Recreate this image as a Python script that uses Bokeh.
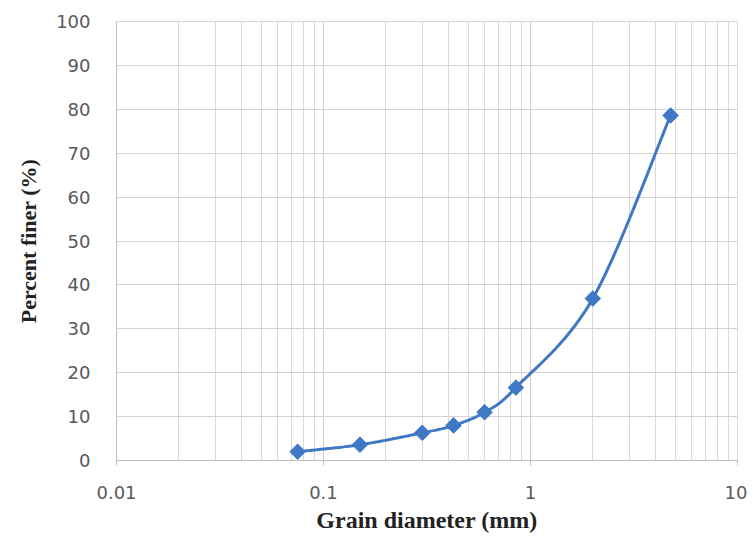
import numpy as np
from bokeh.plotting import figure
from bokeh.models import FixedTicker, Range1d
from bokeh.embed import file_html
from bokeh.resources import INLINE

# Data
grain_mm = [0.075, 0.15, 0.3, 0.425, 0.6, 0.85, 2.0, 4.75]
percent_finer = [2.0, 3.6, 6.3, 8.0, 11.0, 16.6, 36.9, 78.6]

x_major = [0.01, 0.1, 1, 10]
x_minor = [k * 10.0 ** d for d in (-2, -1, 0) for k in range(2, 10)]
y_ticks = list(range(0, 101, 10))

BLUE = "#3F78C4"
GRID = "#d9d9d9"
TICK_TXT = "#595959"

p = figure(width=747, height=535, x_axis_type="log",
           x_range=Range1d(0.01, 10), y_range=Range1d(0, 100),
           output_backend="svg", toolbar_location=None,
           min_border_left=116, min_border_right=10,
           min_border_top=21, min_border_bottom=75)
p.background_fill_color = "white"
p.border_fill_color = "white"
p.outline_line_color = GRID

# Smooth curve (Catmull-Rom in screen-proportional space, like Excel smoothing)
sx, sy = 207.0, 4.39
u = np.log10(np.array(grain_mm)) * sx
v = np.array(percent_finer) * sy
P = np.column_stack([u, v])
Pext = np.vstack([P[0], P, P[-1]])
cu, cv = [], []
t = np.linspace(0, 1, 30)
for i in range(1, len(Pext) - 2):
    p0, p1, p2, p3 = Pext[i - 1], Pext[i], Pext[i + 1], Pext[i + 2]
    for tt in t:
        pt = 0.5 * ((2 * p1) + (-p0 + p2) * tt + (2 * p0 - 5 * p1 + 4 * p2 - p3) * tt ** 2
                    + (-p0 + 3 * p1 - 3 * p2 + p3) * tt ** 3)
        cu.append(pt[0]); cv.append(pt[1])
cx = 10 ** (np.array(cu) / sx)
cy = np.array(cv) / sy

p.line(cx, cy, line_color=BLUE, line_width=3)
p.scatter(grain_mm, percent_finer, marker="square", angle=np.pi / 4, size=11,
          fill_color=BLUE, line_color=BLUE)

# Axes
xa = p.xaxis[0]
xa.ticker = FixedTicker(ticks=x_major, minor_ticks=x_minor)
xa.major_label_overrides = {0.01: "0.01", 0.1: "0.1", 1: "1", 10: "10"}
xa.axis_line_color = "#bfbfbf"
xa.major_tick_line_color = "#bfbfbf"
xa.major_tick_out = 5
xa.major_tick_in = 0
xa.minor_tick_out = 0
xa.minor_tick_in = 0
xa.major_label_standoff = 20
xa.major_label_text_font = "DejaVu Sans"
xa.major_label_text_font_size = "18px"
xa.major_label_text_color = TICK_TXT
xa.axis_label = "Grain diameter (mm)"
xa.axis_label_text_font = "Liberation Serif"
xa.axis_label_text_font_style = "bold"
xa.axis_label_text_font_size = "24px"
xa.axis_label_text_color = "#222222"
xa.axis_label_standoff = 5

ya = p.yaxis[0]
ya.ticker = FixedTicker(ticks=y_ticks)
ya.axis_line_color = "#bfbfbf"
ya.major_tick_out = 0
ya.major_tick_in = 0
ya.minor_tick_out = 0
ya.minor_tick_in = 0
ya.major_label_standoff = 26
ya.major_label_text_font = "DejaVu Sans"
ya.major_label_text_font_size = "18px"
ya.major_label_text_color = TICK_TXT
ya.axis_label = "Percent finer (%)"
ya.axis_label_text_font = "Liberation Serif"
ya.axis_label_text_font_style = "bold"
ya.axis_label_text_font_size = "22px"
ya.axis_label_text_color = "#222222"
ya.axis_label_standoff = 12

p.xgrid.grid_line_color = "#cfcfcf"
p.xgrid.minor_grid_line_color = GRID
p.ygrid.grid_line_color = "#d4d4d4"

open("out.html", "w").write(file_html(p, INLINE))
